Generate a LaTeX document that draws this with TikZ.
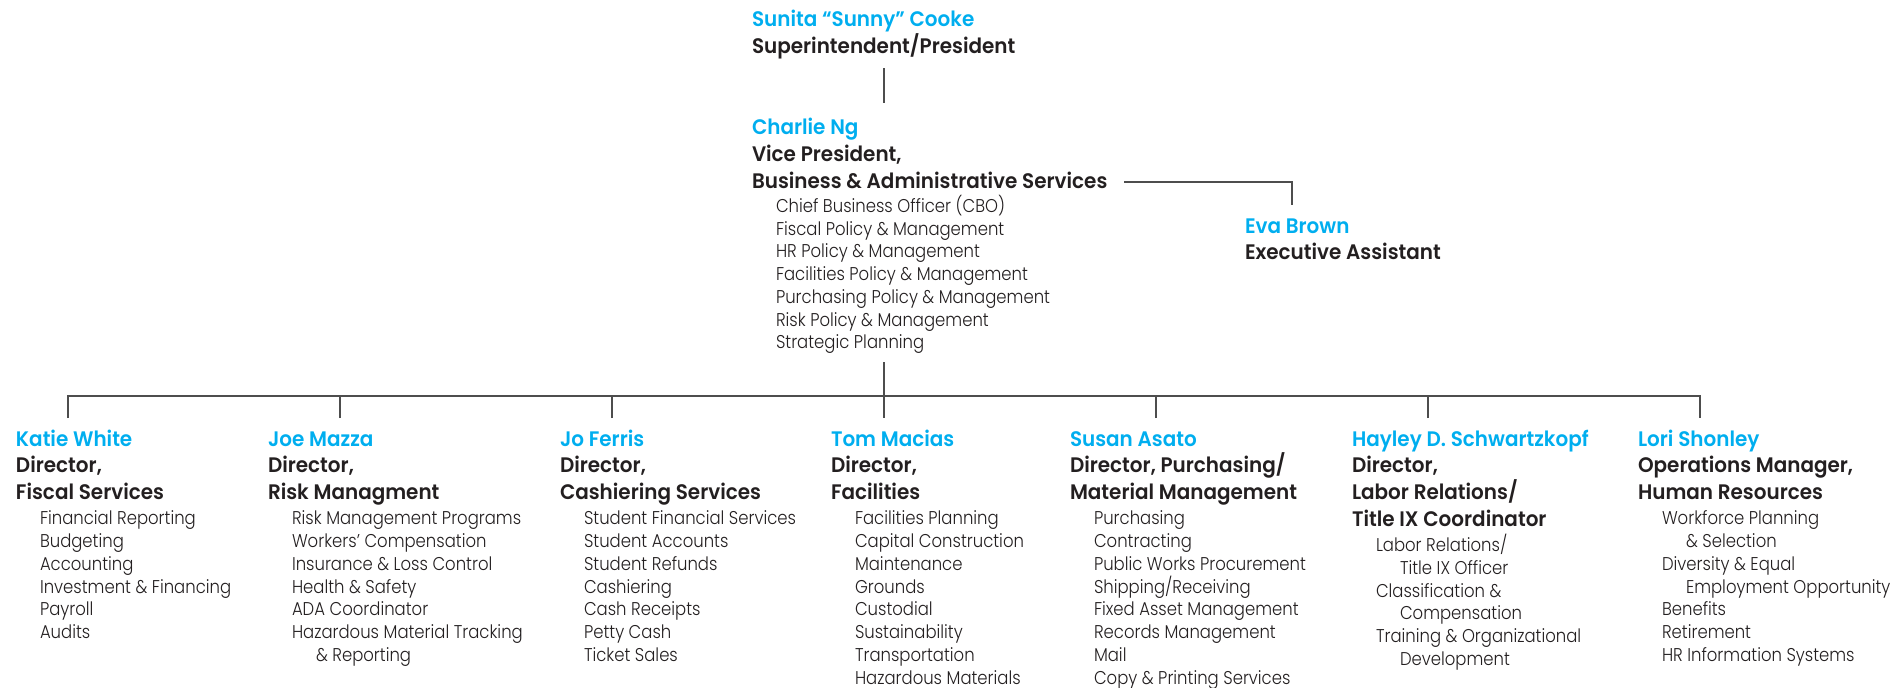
\documentclass[tikz,border=0pt]{standalone}
\usepackage{fontspec}
\usetikzlibrary{calc}
\IfFontExistsTF{Poppins SemiBold}
  {\newfontfamily\hdfont{Poppins SemiBold}[FakeStretch=0.95]}
  {\newfontfamily\hdfontA{Poppins}[FakeStretch=0.95]\newcommand\hdfont{\hdfontA\bfseries}}
\IfFontExistsTF{Poppins Light}
  {\newfontfamily\itfont{Poppins Light}[FakeStretch=0.89]}
  {\newfontfamily\itfont{Poppins}[FakeStretch=0.89]}
\definecolor{namec}{HTML}{00AEEF}
\definecolor{ink}{HTML}{231F20}
\definecolor{linec}{HTML}{4D4D4D}
\newcommand\ind{\hspace*{24pt}}
\tikzset{
  nm/.style={anchor=base west, inner sep=0pt, outer sep=0pt, text=namec, font=\hdfont\fontsize{21}{25}\selectfont},
  tl/.style={anchor=base west, inner sep=0pt, outer sep=0pt, text=ink, font=\hdfont\fontsize{21}{25}\selectfont},
  it/.style={anchor=base west, inner sep=0pt, outer sep=0pt, text=ink, font=\itfont\fontsize{18.5}{22}\selectfont},
  ln/.style={draw=linec, line width=1.3pt}
}
\newcommand\orgblock[5]{%
  \node[nm] (#1) at (#2,446) {#3};
  \foreach \t [count=\i] in {#4} {\node[tl] (#1-t\i) at (#2,446+26.7*\i) {\t}; \xdef\lastT{\i}}
  \foreach \t [count=\i] in {#5} {\node[it] (#1-i\i) at (#2+24,446+26.7*\lastT+25.5+22.75*\i-22.75) {\t};}
}
\begin{document}
\begin{tikzpicture}[x=1pt,y=-1pt]
\useasboundingbox (0,0) rectangle (1904,688);
% top
\node[nm] (sunny) at (752,26) {Sunita “Sunny” Cooke};
\node[tl] (sunnyT) at (752,53) {Superintendent/President};
\node[nm] (charlie) at (752,134) {Charlie Ng};
\node[tl] (charlieT1) at (752,161) {Vice President,};
\node[tl] (charlieT2) at (752,188) {Business \& Administrative Services};
\foreach \t [count=\i] in {Chief Business Officer (CBO), Fiscal Policy \& Management, HR Policy \& Management, Facilities Policy \& Management, Purchasing Policy \& Management, Risk Policy \& Management, Strategic Planning}
  {\node[it] (charlie-i\i) at (776,212.5+22.7*\i-22.7) {\t};}
\node[nm] (eva) at (1245,233) {Eva Brown};
\node[tl] (evaT) at (1245,259) {Executive Assistant};
% bottom
\orgblock{katie}{16}{Katie White}{{Director,},{Fiscal Services}}{Financial Reporting, Budgeting, Accounting, Investment \& Financing, Payroll, Audits}
\orgblock{joe}{268}{Joe Mazza}{{Director,},{Risk Managment}}{Risk Management Programs, Workers’ Compensation, Insurance \& Loss Control, Health \& Safety, ADA Coordinator, Hazardous Material Tracking, \ind\& Reporting}
\orgblock{jo}{560}{Jo Ferris}{{Director,},{Cashiering Services}}{Student Financial Services, Student Accounts, Student Refunds, Cashiering, Cash Receipts, Petty Cash, Ticket Sales}
\orgblock{tom}{831}{Tom Macias}{{Director,},{Facilities}}{Facilities Planning, Capital Construction, Maintenance, Grounds, Custodial, Sustainability, Transportation, Hazardous Materials}
\orgblock{susan}{1070}{Susan Asato}{{Director, Purchasing/},{Material Management}}{Purchasing, Contracting, Public Works Procurement, Shipping/Receiving, Fixed Asset Management, Records Management, Mail, Copy \& Printing Services}
\orgblock{hayley}{1352}{Hayley D. Schwartzkopf}{{Director,},{Labor Relations/},{Title IX Coordinator}}{Labor Relations/, \ind Title IX Officer, Classification \&, \ind Compensation, Training \& Organizational, \ind Development}
\orgblock{lori}{1638}{Lori Shonley}{{Operations Manager,},{Human Resources}}{Workforce Planning, \ind\& Selection, Diversity \& Equal, \ind Employment Opportunity, Benefits, Retirement, HR Information Systems}
% connectors
\coordinate (presDown) at (884,68);
\coordinate (vpUp) at (884,103);
\draw[ln] (presDown) -- (vpUp);
\coordinate (evaUp) at (1292,205);
\draw[ln] ($(charlieT2.base east)+(17,-6)$) -| (evaUp);
\coordinate (vpDown) at (884,362);
\coordinate (bus) at (884,396);
\foreach \n/\x in {katie/68, joe/340, jo/612, tom/884, susan/1156, hayley/1428, lori/1700}
  {\coordinate (\n Tick) at (\x,418);}
\draw[ln] (vpDown) -- (tomTick);
\draw[ln] (katieTick) -- (katieTick |- bus) -- (loriTick |- bus) -- (loriTick);
\foreach \n in {joe, jo, susan, hayley}
  {\draw[ln] (\n Tick) -- (\n Tick |- bus);}
\end{tikzpicture}
\end{document}
